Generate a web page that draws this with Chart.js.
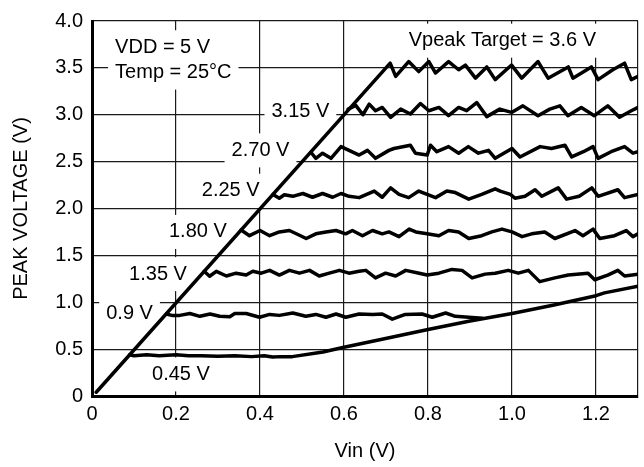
<!DOCTYPE html>
<html>
<head>
<meta charset="utf-8">
<script src="https://cdn.jsdelivr.net/npm/chart.js@4/dist/chart.umd.min.js"></script>
<style>
  body { margin: 0; background: #fff; }
  #peak { display: block; }
</style>
</head>
<body>
<canvas id="peak" width="644" height="467"></canvas>
<script>
'use strict';

// axis ticks
var xTicks = [0, 0.2, 0.4, 0.6, 0.8, 1.0, 1.2];
var yTicks = [0, 0.5, 1.0, 1.5, 2.0, 2.5, 3.0, 3.5, 4.0];

// Vpeak target 3.6 V (includes the common ramp from 0)
var vin36 = [0.01, 0.71, 0.723, 0.754, 0.778, 0.802, 0.818, 0.849, 0.873, 0.889, 0.913, 0.94, 0.96, 0.999, 1.023, 1.062, 1.086, 1.134, 1.145, 1.189, 1.205, 1.24, 1.268, 1.284, 1.3];
var vpk36 = [0.04, 3.55, 3.41, 3.567, 3.46, 3.567, 3.445, 3.567, 3.48, 3.53, 3.39, 3.51, 3.375, 3.53, 3.39, 3.567, 3.39, 3.51, 3.39, 3.51, 3.375, 3.48, 3.55, 3.375, 3.41];

// 3.15 V
var vin315 = [0.61, 0.628, 0.645, 0.66, 0.675, 0.691, 0.711, 0.735, 0.758, 0.782, 0.802, 0.826, 0.849, 0.873, 0.892, 0.916, 0.94, 0.971, 0.999, 1.026, 1.062, 1.09, 1.114, 1.133, 1.165, 1.196, 1.228, 1.256, 1.284, 1.3];
var vpk315 = [3.06, 3.1, 3.0, 3.113, 3.043, 3.078, 2.973, 3.06, 3.008, 3.12, 3.043, 3.078, 2.99, 3.078, 3.043, 3.13, 2.98, 3.06, 3.025, 3.095, 2.99, 3.06, 3.095, 2.99, 3.078, 2.99, 3.095, 2.973, 3.043, 3.078];

// 2.70 V
var vin270 = [0.521, 0.533, 0.549, 0.569, 0.593, 0.612, 0.636, 0.656, 0.675, 0.707, 0.719, 0.758, 0.77, 0.798, 0.806, 0.821, 0.849, 0.873, 0.896, 0.92, 0.944, 0.96, 1.0, 1.019, 1.067, 1.094, 1.126, 1.142, 1.17, 1.193, 1.205, 1.236, 1.268, 1.288, 1.3];
var vpk270 = [2.6, 2.535, 2.59, 2.535, 2.66, 2.62, 2.57, 2.62, 2.535, 2.62, 2.64, 2.675, 2.59, 2.57, 2.675, 2.606, 2.66, 2.59, 2.66, 2.59, 2.62, 2.535, 2.64, 2.55, 2.66, 2.64, 2.675, 2.55, 2.606, 2.66, 2.535, 2.606, 2.66, 2.59, 2.606];

// 2.25 V
var vin225 = [0.431, 0.446, 0.458, 0.478, 0.502, 0.525, 0.549, 0.573, 0.593, 0.612, 0.636, 0.672, 0.691, 0.711, 0.731, 0.754, 0.778, 0.798, 0.818, 0.845, 0.865, 0.897, 0.928, 0.96, 0.972, 0.996, 1.007, 1.031, 1.055, 1.071, 1.11, 1.13, 1.16, 1.19, 1.205, 1.252, 1.268, 1.3];
var vpk225 = [2.15, 2.11, 2.147, 2.13, 2.16, 2.12, 2.16, 2.12, 2.16, 2.13, 2.116, 2.186, 2.12, 2.22, 2.15, 2.116, 2.186, 2.15, 2.116, 2.186, 2.17, 2.10, 2.15, 2.21, 2.186, 2.15, 2.11, 2.13, 2.20, 2.13, 2.22, 2.10, 2.13, 2.22, 2.13, 2.20, 2.116, 2.15];

// 1.80 V
var vin180 = [0.355, 0.375, 0.4, 0.423, 0.446, 0.47, 0.494, 0.51, 0.533, 0.557, 0.581, 0.604, 0.62, 0.644, 0.668, 0.691, 0.707, 0.731, 0.755, 0.771, 0.798, 0.826, 0.849, 0.873, 0.897, 0.928, 0.952, 0.976, 1.0, 1.024, 1.047, 1.078, 1.102, 1.15, 1.169, 1.193, 1.209, 1.244, 1.272, 1.288, 1.3];
var vpk180 = [1.77, 1.71, 1.765, 1.71, 1.75, 1.765, 1.715, 1.68, 1.73, 1.75, 1.765, 1.73, 1.765, 1.71, 1.765, 1.73, 1.75, 1.70, 1.78, 1.75, 1.73, 1.71, 1.765, 1.75, 1.68, 1.71, 1.75, 1.78, 1.75, 1.70, 1.73, 1.75, 1.68, 1.765, 1.71, 1.78, 1.68, 1.71, 1.765, 1.70, 1.73];

// 1.35 V
var vin135 = [0.267, 0.28, 0.296, 0.32, 0.343, 0.367, 0.383, 0.403, 0.423, 0.446, 0.47, 0.494, 0.518, 0.541, 0.565, 0.589, 0.612, 0.636, 0.652, 0.675, 0.699, 0.723, 0.747, 0.779, 0.798, 0.826, 0.857, 0.881, 0.905, 0.936, 0.96, 0.991, 1.015, 1.039, 1.066, 1.102, 1.134, 1.181, 1.197, 1.228, 1.252, 1.268, 1.3];
var vpk135 = [1.33, 1.277, 1.33, 1.28, 1.31, 1.29, 1.33, 1.31, 1.34, 1.29, 1.34, 1.31, 1.34, 1.28, 1.31, 1.34, 1.31, 1.33, 1.34, 1.26, 1.31, 1.28, 1.34, 1.31, 1.29, 1.31, 1.35, 1.34, 1.26, 1.30, 1.31, 1.34, 1.31, 1.34, 1.22, 1.26, 1.29, 1.31, 1.24, 1.29, 1.34, 1.28, 1.30];

// 0.9 V (joins the 0.45 V ramp near 0.93 V)
var vin09 = [0.177, 0.19, 0.209, 0.233, 0.257, 0.281, 0.304, 0.328, 0.34, 0.367, 0.399, 0.423, 0.446, 0.478, 0.509, 0.533, 0.557, 0.581, 0.604, 0.636, 0.668, 0.691, 0.715, 0.746, 0.786, 0.81, 0.842, 0.865, 0.897, 0.93];
var vpk09 = [0.875, 0.86, 0.86, 0.88, 0.85, 0.875, 0.85, 0.845, 0.88, 0.88, 0.84, 0.87, 0.86, 0.885, 0.85, 0.87, 0.84, 0.875, 0.84, 0.875, 0.87, 0.875, 0.82, 0.87, 0.875, 0.84, 0.885, 0.85, 0.84, 0.83];

// 0.45 V
var vin045 = [0.09, 0.1, 0.13, 0.16, 0.2, 0.23, 0.26, 0.3, 0.34, 0.38, 0.41, 0.43, 0.45, 0.477, 0.55, 0.6, 0.685, 0.8, 0.9, 1.0, 1.1, 1.2, 1.22, 1.3];
var vpk045 = [0.44, 0.43, 0.44, 0.43, 0.44, 0.43, 0.43, 0.425, 0.43, 0.42, 0.43, 0.415, 0.42, 0.42, 0.47, 0.52, 0.60, 0.71, 0.80, 0.88, 0.97, 1.07, 1.10, 1.17];

var FONT = '"Liberation Sans", Arial, Helvetica, sans-serif';

function pts(xs, ys) {
    return xs.map(function(x, i) { return { x: x, y: ys[i] }; });
}

function line(label, xs, ys) {
    return {
        label: label,
        data: pts(xs, ys),
        borderColor: '#000',
        borderWidth: 3.5,
        borderJoinStyle: 'round',
        borderCapStyle: 'round',
        pointRadius: 0,
        tension: 0,
        fill: false
    };
}

// text notes on the plot, placed in data units, with a white box behind
var notes = [
    { text: 'VDD = 5 V', x: 0.055, y: 3.72, align: 'left' },
    { text: 'Temp = 25°C', x: 0.055, y: 3.45, align: 'left' },
    { text: 'Vpeak Target = 3.6 V', x: 0.754, y: 3.79, align: 'left' },
    { text: '3.15 V', x: 0.565, y: 3.04, align: 'right' },
    { text: '2.70 V', x: 0.47, y: 2.62, align: 'right' },
    { text: '2.25 V', x: 0.399, y: 2.19, align: 'right' },
    { text: '1.80 V', x: 0.321, y: 1.75, align: 'right' },
    { text: '1.35 V', x: 0.226, y: 1.30, align: 'right' },
    { text: '0.9 V', x: 0.145, y: 0.88, align: 'right' },
    { text: '0.45 V', x: 0.143, y: 0.23, align: 'left' }
];

var notesPlugin = {
    id: 'notes',
    beforeDatasetsDraw: function(chart) {
        var ctx = chart.ctx;
        var xs = chart.scales.x, ys = chart.scales.y;
        ctx.save();
        ctx.font = '20px ' + FONT;
        ctx.textBaseline = 'middle';
        notes.forEach(function(n) {
            var px = xs.getPixelForValue(n.x);
            var py = ys.getPixelForValue(n.y);
            var w = ctx.measureText(n.text).width;
            var left = n.align === 'left' ? px : px - w;
            ctx.fillStyle = '#fff';
            ctx.fillRect(left - 7, py - 17, w + 14, 34);
        });
        ctx.fillStyle = '#000';
        notes.forEach(function(n) {
            var px = xs.getPixelForValue(n.x);
            var py = ys.getPixelForValue(n.y);
            ctx.textAlign = n.align;
            ctx.fillText(n.text, px, py);
        });
        ctx.restore();
    }
};

var fmt = function(v) { return v === 0 ? '0' : v.toFixed(1); };

var canvas = document.getElementById('peak');
new Chart(canvas.getContext('2d'), {
    type: 'line',
    data: {
        datasets: [
            line('3.6 V', vin36, vpk36),
            line('3.15 V', vin315, vpk315),
            line('2.70 V', vin270, vpk270),
            line('2.25 V', vin225, vpk225),
            line('1.80 V', vin180, vpk180),
            line('1.35 V', vin135, vpk135),
            line('0.9 V', vin09, vpk09),
            line('0.45 V', vin045, vpk045)
        ]
    },
    plugins: [notesPlugin],
    options: {
        responsive: false,
        animation: false,
        devicePixelRatio: 1,
        layout: { padding: { top: 14, right: 3, left: 0, bottom: 0 } },
        plugins: {
            legend: { display: false },
            tooltip: { enabled: false }
        },
        scales: {
            x: {
                type: 'linear',
                min: 0,
                max: 1.3,
                afterBuildTicks: function(scale) {
                    scale.ticks = xTicks.concat([1.3]).map(function(v) { return { value: v }; });
                },
                afterFit: function(scale) { scale.height = 71; },
                ticks: {
                    autoSkip: false,
                    maxRotation: 0,
                    padding: 6,
                    color: '#000',
                    font: { size: 20, family: FONT },
                    callback: function(v) { return v === 1.3 ? '' : fmt(v); }
                },
                grid: { color: '#1a1a1a', lineWidth: 1.2, drawTicks: false },
                border: { color: '#000', width: 3 },
                title: {
                    display: true,
                    text: 'Vin (V)',
                    color: '#000',
                    font: { size: 20, family: FONT },
                    padding: { top: 0, bottom: 4 }
                }
            },
            y: {
                min: 0,
                max: 4,
                afterBuildTicks: function(scale) {
                    scale.ticks = yTicks.map(function(v) { return { value: v }; });
                },
                afterFit: function(scale) { scale.width = 92; },
                ticks: {
                    padding: 9,
                    color: '#000',
                    font: { size: 20, family: FONT },
                    callback: function(v) { return fmt(v); }
                },
                grid: { color: '#1a1a1a', lineWidth: 1.2, drawTicks: false },
                border: { color: '#000', width: 3 },
                title: {
                    display: true,
                    text: 'PEAK VOLTAGE (V)',
                    color: '#000',
                    font: { size: 20, family: FONT },
                    padding: { top: 9, bottom: 9 }
                }
            }
        }
    }
});
</script>
</body>
</html>
